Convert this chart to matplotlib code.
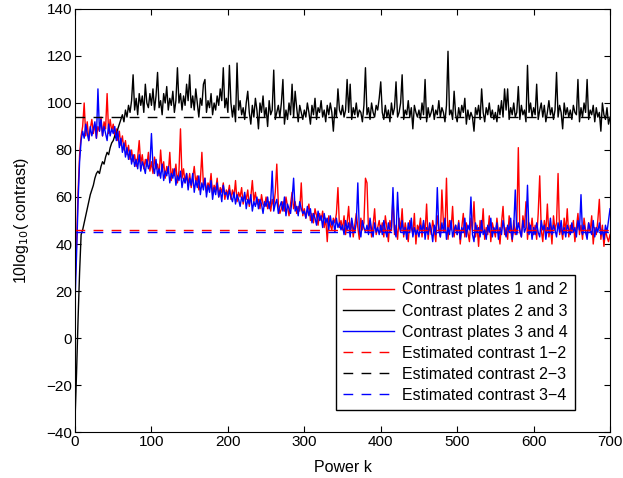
#!/usr/bin/env python3
"""Contrast between plates as a function of the power k (10log10 scale)."""

import matplotlib

matplotlib.use("Agg")
import matplotlib.pyplot as plt
import numpy as np

plt.rcParams["font.family"] = ["Liberation Sans", "DejaVu Sans"]

K_STEP = 2
K_MAX = 700

CONTRAST_12 = [
    22, 40, 62, 78, 86, 90, 100, 86, 92, 84, 89, 93, 87, 91, 85, 90, 88, 94, 86, 92, 89, 104, 87, 93, 88,
    91, 86, 89, 84, 88, 82, 86, 80, 84, 78, 82, 76, 80, 75, 78, 73, 77, 84, 74, 78, 72, 76, 73, 79, 71,
    75, 70, 77, 72, 74, 69, 80, 71, 75, 68, 73, 70, 79, 67, 72, 69, 74, 66, 71, 89, 68, 72, 66, 70, 65,
    70, 64, 68, 73, 66, 69, 63, 67, 79, 65, 68, 62, 66, 64, 70, 61, 65, 63, 68, 60, 64, 62, 66, 59, 63,
    61, 65, 59, 63, 60, 67, 58, 62, 60, 64, 57, 61, 59, 63, 56, 60, 67, 58, 62, 57, 59, 55, 61, 57, 56,
    60, 55, 58, 54, 59, 56, 62, 74, 57, 53, 55, 58, 54, 60, 56, 52, 57, 62, 55, 58, 53, 56, 54, 66, 52,
    55, 51, 54, 57, 50, 53, 49, 55, 52, 48, 53, 50, 54, 47, 51, 41, 52, 48, 46, 51, 49, 53, 64, 47, 50,
    46, 52, 44, 49, 56, 45, 50, 43, 48, 53, 47, 42, 51, 46, 49, 68, 66, 45, 50, 43, 48, 55, 44, 47, 50,
    45, 49, 43, 52, 47, 41, 50, 46, 60, 44, 48, 42, 51, 46, 55, 43, 49, 45, 41, 50, 47, 44, 53, 40, 48,
    46, 51, 43, 49, 45, 57, 42, 48, 44, 50, 46, 41, 52, 47, 43, 63, 49, 45, 68, 42, 50, 46, 56, 43, 48,
    44, 50, 40, 47, 53, 43, 49, 45, 41, 51, 46, 58, 43, 48, 39, 50, 45, 55, 42, 47, 44, 52, 41, 49, 46,
    43, 51, 45, 40, 49, 56, 44, 47, 42, 52, 46, 41, 50, 44, 48, 81, 45, 43, 52, 47, 58, 42, 49, 45, 51,
    44, 48, 42, 53, 69, 46, 41, 50, 45, 57, 43, 48, 40, 52, 46, 49, 70, 44, 47, 42, 51, 45, 55, 43, 48,
    45, 50, 41, 47, 53, 44, 48, 42, 51, 46, 43, 49, 45, 52, 40, 47, 44, 50, 59, 42, 48, 39, 46, 43, 41,
    44,
]

CONTRAST_23 = [
    -35, -15, 8, 28, 44, 46, 49, 52, 55, 58, 61, 63, 65, 68, 70, 71, 70, 73, 75, 74, 77, 79, 78, 81, 83,
    84, 86, 85, 89, 91, 93, 95, 92, 97, 94, 99, 96, 101, 112, 97, 102, 95, 104, 99, 103, 96, 108, 100, 98, 104,
    99, 106, 97, 103, 113, 98, 101, 95, 104, 100, 107, 97, 102, 99, 105, 96, 101, 115, 100, 104, 97, 103, 99, 108, 101,
    112, 98, 103, 97, 106, 100, 94, 102, 99, 108, 110, 96, 101, 98, 104, 95, 100, 97, 103, 99, 106, 101, 115, 98, 102,
    96, 116, 100, 94, 99, 92, 117, 97, 101, 95, 98, 93, 100, 105, 96, 91, 99, 94, 102, 97, 89, 100, 96, 103, 94,
    98, 90, 101, 95, 97, 114, 93, 96, 99, 94, 100, 110, 91, 97, 93, 100, 95, 108, 94, 105, 98, 92, 99, 96, 93,
    97, 94, 100, 96, 91, 99, 95, 102, 93, 98, 96, 101, 94, 97, 92, 99, 95, 100, 96, 88, 98, 94, 106, 97, 95,
    99, 94, 97, 110, 96, 108, 93, 98, 95, 100, 94, 97, 96, 92, 99, 115, 95, 98, 93, 100, 96, 94, 99, 97, 102,
    109, 96, 93, 99, 94, 97, 92, 100, 95, 98, 109, 94, 96, 100, 112, 93, 97, 95, 101, 94, 98, 89, 99, 96, 94,
    97, 93, 100, 95, 110, 92, 98, 94, 96, 99, 93, 97, 95, 101, 94, 98, 96, 92, 99, 122, 95, 97, 93, 105, 95,
    92, 98, 94, 99, 96, 102, 91, 97, 93, 96, 94, 88, 98, 95, 99, 93, 106, 96, 92, 98, 95, 100, 94, 97, 93,
    96, 92, 99, 95, 101, 94, 106, 97, 106, 93, 98, 95, 100, 94, 96, 107, 93, 99, 95, 97, 92, 116, 96, 100, 94,
    98, 95, 108, 93, 97, 100, 94, 99, 92, 96, 101, 95, 98, 93, 97, 113, 94, 99, 96, 89, 100, 95, 98, 94, 97,
    93, 99, 96, 95, 110, 92, 98, 94, 100, 96, 110, 93, 97, 95, 99, 92, 98, 94, 96, 88, 100, 95, 93, 98, 91,
    94,
]

CONTRAST_34 = [
    15, 35, 58, 75, 84, 88, 85, 91, 87, 84, 90, 86, 89, 92, 85, 106, 88, 93, 86, 90, 87, 84, 91, 86, 89,
    87, 90, 84, 88, 81, 85, 79, 83, 77, 81, 76, 80, 74, 78, 73, 76, 72, 78, 71, 75, 73, 70, 76, 72, 74,
    87, 73, 70, 76, 69, 72, 68, 74, 67, 71, 69, 73, 66, 70, 68, 72, 65, 69, 67, 71, 64, 68, 66, 70, 63,
    68, 65, 70, 62, 67, 64, 69, 61, 66, 63, 68, 60, 65, 62, 67, 59, 64, 61, 66, 60, 63, 58, 65, 61, 62,
    59, 63, 60, 58, 62, 57, 61, 59, 56, 60, 58, 62, 55, 59, 57, 61, 54, 58, 56, 60, 55, 59, 57, 53, 58,
    56, 60, 55, 58, 71, 54, 57, 59, 53, 56, 58, 54, 60, 52, 57, 55, 53, 59, 68, 54, 56, 52, 58, 55, 53,
    54, 51, 56, 52, 55, 49, 53, 51, 48, 54, 50, 52, 47, 53, 49, 51, 46, 52, 48, 50, 45, 51, 47, 49, 46,
    48, 44, 50, 46, 49, 43, 51, 47, 45, 49, 66, 46, 43, 50, 47, 45, 48, 44, 51, 46, 43, 49, 45, 47, 44,
    48, 44, 50, 46, 43, 49, 45, 47, 64, 46, 43, 62, 48, 45, 50, 44, 47, 42, 49, 45, 51, 43, 47, 44, 46,
    43, 48, 45, 50, 42, 47, 44, 49, 46, 41, 48, 44, 64, 46, 43, 49, 45, 51, 42, 47, 44, 50, 43, 46, 48,
    44, 49, 42, 47, 45, 51, 43, 48, 46, 60, 44, 41, 49, 45, 47, 43, 50, 44, 46, 42, 48, 45, 51, 43, 47,
    45, 49, 42, 47, 44, 50, 46, 43, 48, 45, 51, 42, 47, 63, 44, 49, 46, 43, 50, 45, 47, 65, 44, 48, 42,
    47, 44, 49, 45, 43, 50, 46, 48, 42, 47, 45, 51, 44, 48, 46, 43, 49, 45, 50, 44, 47, 43, 48, 46, 44,
    49, 45, 47, 43, 50, 46, 61, 44, 48, 45, 42, 49, 46, 44, 50, 43, 47, 45, 49, 44, 46, 42, 48, 45, 50,
    55,
]

ESTIMATED = [46.0, 94.0, 45.2]

SERIES_LABELS = [
    "Contrast plates 1 and 2",
    "Contrast plates 2 and 3",
    "Contrast plates 3 and 4",
]
ESTIMATE_LABELS = [
    "Estimated contrast 1\u22122",
    "Estimated contrast 2\u22123",
    "Estimated contrast 3\u22124",
]
COLORS = ["#ff0000", "#000000", "#0000ff"]

X_TICKS = list(range(0, 701, 100))
Y_TICKS = list(range(-40, 141, 20))


def main() -> None:
    k = np.arange(0, K_MAX + 1, K_STEP)

    fig = plt.figure(figsize=(6.23, 4.78), dpi=100)
    ax = fig.add_axes([0.1204, 0.0962, 0.8588, 0.8850])

    for values, color, label in zip([CONTRAST_12, CONTRAST_23, CONTRAST_34], COLORS, SERIES_LABELS):
        ax.plot(k, values, color=color, linewidth=1.0, label=label)

    for est, color, label in zip(ESTIMATED, COLORS, ESTIMATE_LABELS):
        ax.plot([0, K_MAX], [est, est], color=color, linewidth=1.0,
                linestyle=(0, (7, 6)), label=label)

    ax.set_xlim(0, 700)
    ax.set_ylim(-40, 140)
    ax.set_xticks(X_TICKS)
    ax.set_yticks(Y_TICKS)
    ax.tick_params(direction="in", top=True, right=True, length=4, labelsize=11, pad=2)
    ax.set_xlabel("Power k", fontsize=11.5, labelpad=8)
    ax.set_ylabel("10log$_{10}$( contrast)", fontsize=11.5, labelpad=11)

    ax.legend(
        loc="lower right",
        bbox_to_anchor=(0.935, 0.052),
        borderaxespad=0.0,
        fontsize=11.5,
        frameon=True,
        fancybox=False,
        edgecolor="black",
        framealpha=1.0,
        borderpad=0.45,
        labelspacing=0.38,
        handlelength=3.2,
        handletextpad=0.5,
    )

    fig.savefig("out.png", dpi=100)
    plt.close(fig)


if __name__ == "__main__":
    main()
